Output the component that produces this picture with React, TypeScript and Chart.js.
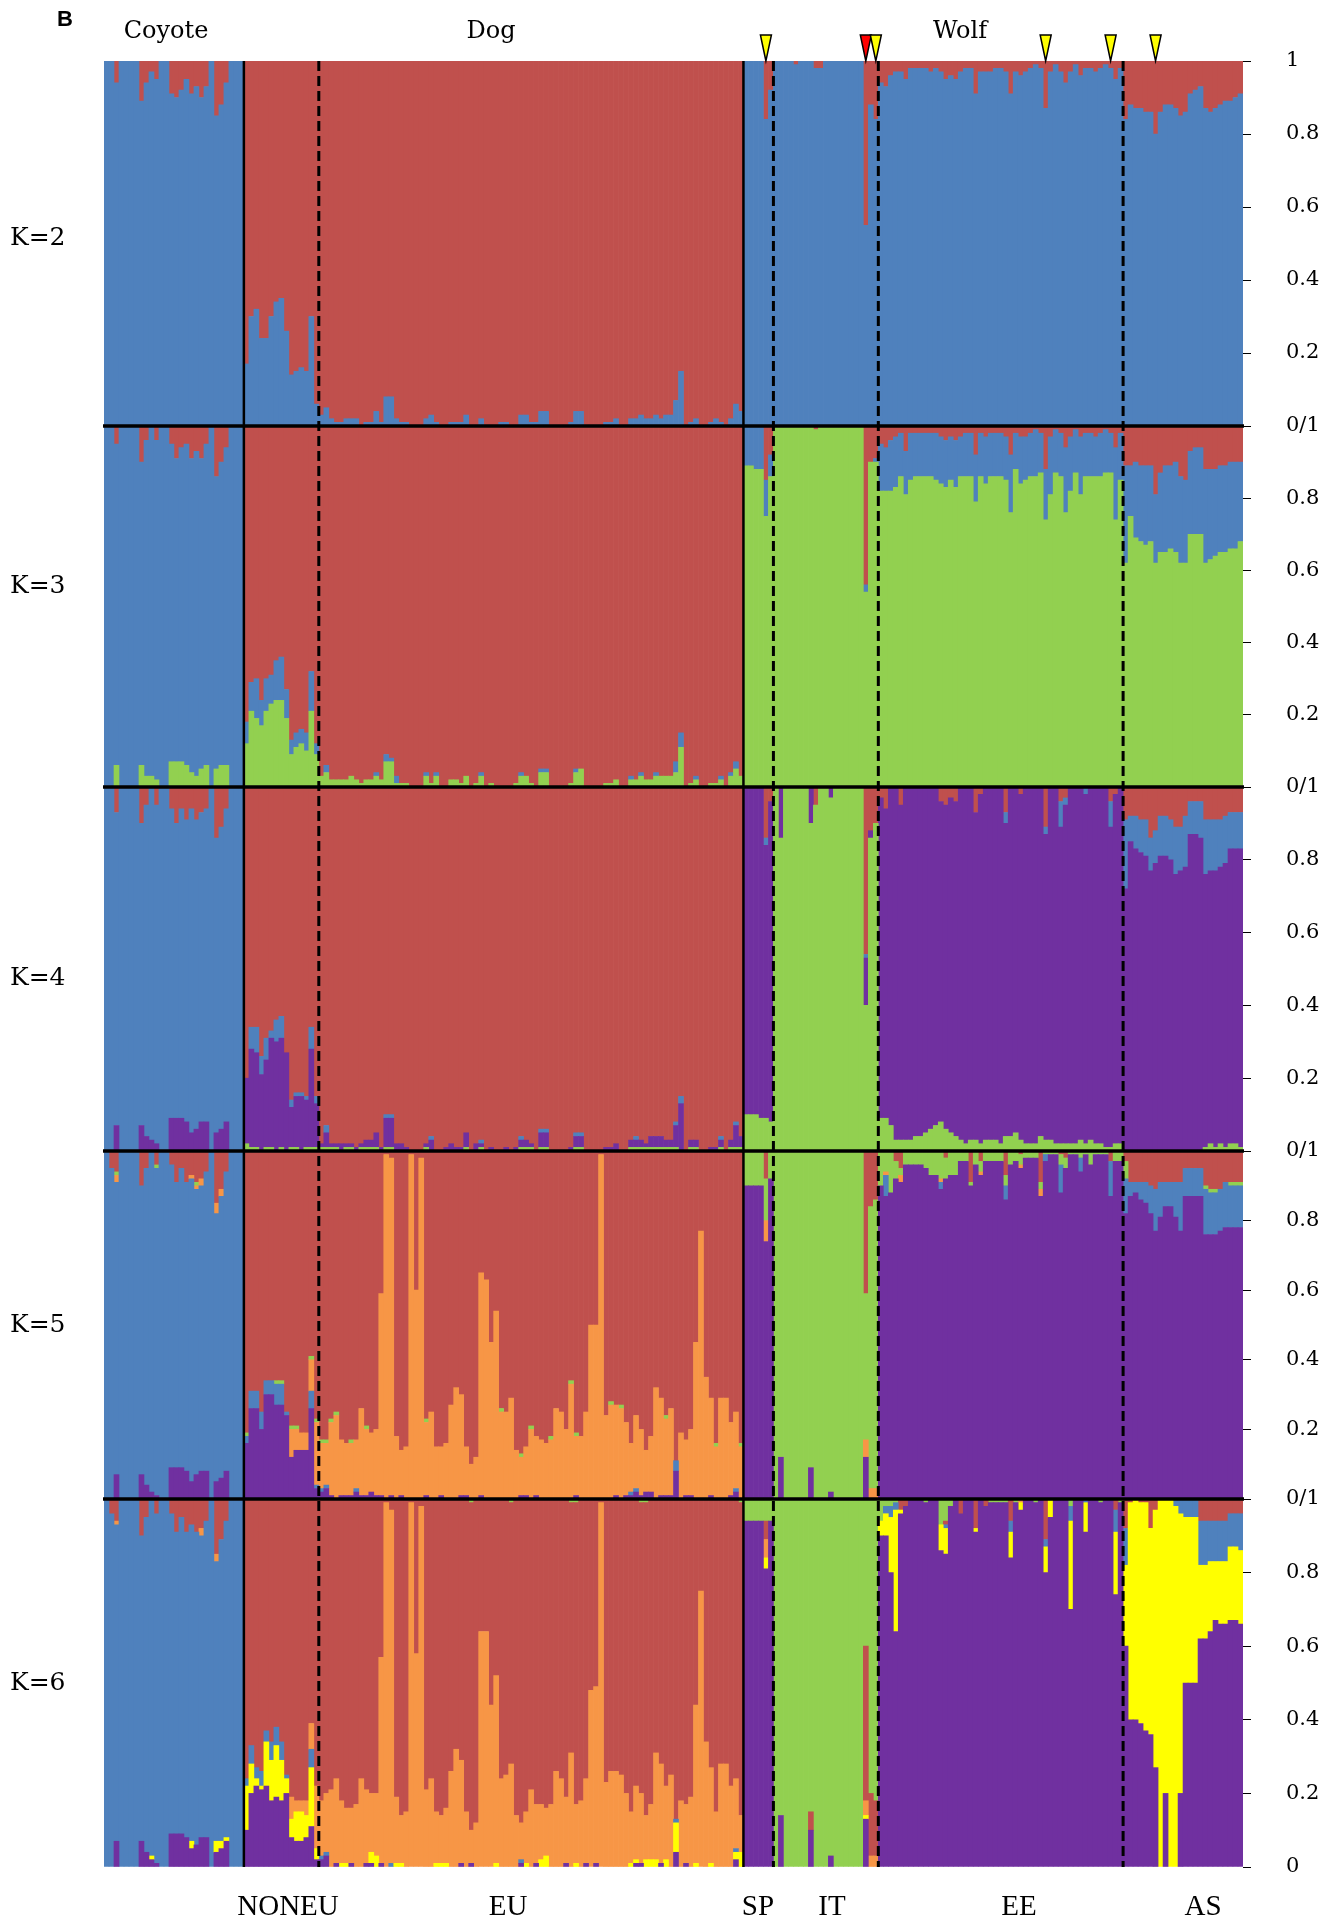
import React, { useEffect, useRef } from 'react';
import { Chart, registerables } from 'chart.js';

Chart.register(...registerables);

const W = 1339;
const H = 1924;

// ---- groups of individuals ----
const groupNames = ['Coyote', 'NONEU', 'EU', 'SP', 'IT', 'EE', 'AS'];
const groupSizes = [28, 15, 85, 6, 21, 49, 24];
const boundaryStyles = ['solid', 'dashed', 'solid', 'dashed', 'dashed', 'dashed'];

// ---- text ----
const taxonLabels = ['Coyote', 'Dog', 'Wolf'];
const taxonLabelX = [166, 491, 960];
const popLabels = ['NONEU', 'EU', 'SP', 'IT', 'EE', 'AS'];
const popLabelX = [288, 508, 758, 832, 1019, 1203];
const kLabels = ['K=2', 'K=3', 'K=4', 'K=5', 'K=6'];
const kLabelY = [236, 584, 976, 1323, 1681];
const panelHeights = [365, 361, 364, 348, 368];

// ---- highlighted individuals (triangles) ----
const markerGroups = ['SP', 'IT', 'IT', 'EE', 'EE', 'AS'];
const markerPositions = [4, 18, 20, 33, 46, 6];
const markerColors = ['#FFFF00', '#FF0000', '#FFFF00', '#FFFF00', '#FFFF00', '#FFFF00'];

const RED = '#C0504D';
const BLUE = '#4F81BD';
const GREEN = '#92D050';
const PURPLE = '#7030A0';
const ORANGE = '#F79646';
const YELLOW = '#FFFF00';

// ---- membership proportions (%), one sub-array per group; red = remainder ----
// K=2
const k2Blue = [
  [100,100,94,100,100,100,100,89,94,97,95,100,100,91,90,92,95,91,93,90,93,100,85,88,94,100,100,100],
  [17,30,32,24,24,30,34,35,26,14,15,16,15,30,6],
  [3,5,2,1,1,2,2,2,0,1,1,4,1,8,8,2,1,1,0,0,0,2,3,1,0,0,1,1,1,3,0,0,2,0,0,0,1,1,0,0,3,3,1,1,4,4,0,0,0,0,1,4,4,0,0,0,0,1,1,2,0,0,2,2,3,2,2,3,2,3,3,7,15,0,1,2,0,0,1,2,1,0,2,6,4],
  [100,100,100,100,84,92],
  [100,100,100,100,99,100,100,100,98,98,100,100,100,100,100,100,100,100,55,88,84],
  [94,93,96,97,97,95,98,98,98,98,97,98,97,95,96,95,97,98,98,91,97,97,97,98,98,97,91,97,96,97,98,99,98,87,97,99,97,94,97,99,96,98,98,97,98,99,98,95,98],
  [84,88,87,87,86,86,80,86,88,88,87,85,86,91,92,93,87,86,87,88,89,89,90,91],
];

// K=3
const k3Green = [
  [0,0,6,0,0,0,0,6,3,3,2,0,0,7,7,7,6,4,3,5,6,0,5,6,6,0,0,0],
  [12,21,19,17,21,23,24,24,19,9,11,12,10,21,9],
  [3,4,2,2,2,2,3,2,1,2,2,3,2,7,7,1,1,1,0,0,0,3,1,3,0,0,2,2,1,3,0,1,3,0,1,0,0,0,0,1,3,3,1,0,4,4,0,0,0,0,1,4,5,0,0,0,0,1,1,2,0,0,2,2,3,2,2,3,3,3,3,4,11,0,1,2,0,0,1,1,2,0,3,5,3],
  [89,89,88,88,75,86],
  [100,100,100,100,100,100,100,100,99,100,100,100,100,100,100,100,100,100,54,90,90],
  [82,82,82,83,86,81,85,86,86,86,86,85,84,83,85,83,86,86,86,79,86,84,86,86,86,85,76,88,84,85,86,86,87,74,81,87,86,76,82,87,81,86,86,86,86,87,87,74,85],
  [62,75,69,68,67,68,62,65,65,66,65,62,62,70,70,70,62,63,64,65,65,66,66,68],
];
const k3Blue = [
  [100,100,89,100,100,100,100,84,93,97,94,100,100,88,84,87,89,87,90,86,89,100,81,84,88,100,100,100],
  [6,8,11,7,9,8,11,12,8,4,4,4,5,11,3],
  [0,2,0,0,0,0,0,0,0,0,0,1,0,2,1,2,0,0,0,0,0,1,0,1,0,0,0,0,0,0,0,0,1,0,0,0,0,0,0,0,1,0,0,0,1,1,0,0,0,0,0,1,0,0,0,0,0,0,0,0,0,0,1,0,1,0,0,1,0,0,0,3,4,0,0,1,0,0,0,0,1,0,1,2,0],
  [11,11,12,12,10,6],
  [0,0,0,0,0,0,0,0,0,0,0,0,0,0,0,0,0,0,2,0,1],
  [13,12,14,14,12,12,13,12,12,12,12,13,13,13,12,13,11,12,12,13,12,13,12,12,12,12,16,10,13,12,12,13,11,14,16,12,12,18,15,12,16,12,12,11,12,12,11,20,13],
  [27,14,21,21,22,21,19,22,24,23,25,24,23,23,24,24,26,25,24,24,24,24,24,22],
];

// K=4
const k4Green = [
  [0,0,0,0,0,0,0,0,0,0,0,0,0,0,0,0,0,0,0,0,0,0,0,0,0,0,0,0],
  [2,1,1,0,1,1,0,1,0,1,1,0,1,1,1],
  [1,1,1,1,0,1,1,0,1,1,1,1,0,1,1,0,0,0,0,0,0,1,0,0,0,0,0,0,0,1,0,0,1,0,0,0,0,0,0,0,1,1,1,0,1,1,0,0,0,0,0,1,1,0,0,0,0,0,0,0,0,0,1,1,1,1,1,1,1,1,1,1,0,0,1,1,0,0,0,0,1,0,1,1,1],
  [10,10,10,9,9,8],
  [100,86,100,100,100,100,100,90,95,100,100,97,100,100,100,100,100,100,40,86,90],
  [9,9,7,3,3,3,3,4,4,5,6,7,8,6,5,4,3,2,3,3,2,3,3,3,2,4,4,5,3,2,2,2,4,3,3,2,2,2,2,2,3,2,3,2,2,1,1,2,2],
  [0,0,0,0,0,0,0,0,0,0,0,0,0,0,0,0,1,2,1,2,1,2,2,1],
];
const k4Purple = [
  [0,0,7,0,0,0,0,7,4,3,2,0,0,9,9,9,8,5,6,8,8,0,5,6,8,0,0,0],
  [18,27,26,21,24,30,30,30,27,11,14,15,13,27,12],
  [1,4,1,1,2,1,1,1,1,2,2,4,1,8,8,2,2,1,0,0,0,1,3,0,0,1,2,1,1,4,0,2,1,0,1,0,0,1,0,1,2,2,1,0,4,4,0,0,0,0,1,3,3,0,0,0,0,1,1,2,0,0,2,2,2,1,3,3,3,2,2,6,13,0,2,2,0,0,1,1,2,0,2,6,3],
  [90,90,90,91,75,88],
  [0,14,0,0,0,0,0,10,0,0,0,3,0,0,0,0,0,0,13,2,0],
  [88,85,93,97,92,97,97,96,96,95,94,93,88,89,92,92,97,98,97,90,96,97,97,97,98,86,96,95,95,98,98,98,96,84,97,98,87,93,98,98,97,96,97,98,98,99,88,96,98],
  [72,85,83,82,81,77,79,81,81,80,76,77,78,87,87,86,75,75,76,76,78,81,81,82],
];
const k4Blue = [
  [100,100,86,100,100,100,100,83,91,97,93,100,100,85,81,85,83,89,85,85,86,100,81,83,86,100,100,100],
  [0,6,7,5,6,2,6,6,0,2,1,1,1,6,2],
  [0,2,0,0,0,0,0,0,0,0,0,0,0,1,1,0,0,0,0,0,0,0,1,0,0,0,0,0,0,0,0,0,1,0,0,0,0,0,0,0,1,0,0,0,1,1,0,0,0,0,0,1,1,0,0,0,0,0,0,0,0,0,0,1,0,0,0,0,0,0,0,1,2,0,0,0,0,0,0,0,1,0,0,1,0],
  [0,0,0,0,2,0],
  [0,0,0,0,0,0,0,0,0,0,0,0,0,0,0,0,0,0,1,0,0],
  [0,0,0,0,0,0,0,0,0,0,0,0,0,0,0,0,0,0,0,0,0,0,0,0,0,3,0,0,0,0,0,0,0,2,0,0,7,2,0,0,0,2,0,0,0,0,7,0,0],
  [19,7,9,9,10,9,9,11,11,11,13,12,14,9,9,10,15,14,14,13,13,10,10,10],
];

// K=5
const k5Purple = [
  [0,0,7,0,0,0,0,7,4,2,1,0,0,9,9,9,8,5,7,8,8,0,5,6,8,0,0,0],
  [16,26,26,20,30,30,27,27,24,12,14,14,14,26,3],
  [2,3,1,0,1,1,1,2,1,1,2,1,1,0,1,0,1,0,0,0,0,1,0,0,1,0,0,0,1,1,0,0,1,0,0,0,0,0,0,0,1,1,0,1,0,0,0,0,0,0,0,1,0,0,0,0,0,0,0,1,0,1,1,2,1,2,2,0,1,1,1,8,0,1,1,0,0,0,1,0,0,0,1,2,0],
  [90,90,90,90,74,92],
  [0,12,0,0,0,0,0,9,0,0,0,2,0,0,0,0,0,0,12,0,0],
  [90,87,88,92,91,96,96,96,96,95,93,93,89,92,93,93,97,97,90,96,93,97,97,97,97,86,96,97,95,98,98,98,87,97,99,99,88,95,99,99,94,99,96,99,99,99,87,97,97],
  [82,87,88,86,85,82,77,81,84,84,81,77,87,87,87,87,76,76,76,77,78,78,78,78],
];
const k5Blue = [
  [100,95,84,100,100,100,100,83,91,98,94,100,100,87,82,86,83,87,82,82,86,100,77,81,86,100,100,100],
  [2,5,5,5,4,4,6,6,1,0,0,0,0,5,1],
  [1,1,0,0,0,0,0,1,0,0,0,0,0,0,0,0,0,0,0,0,0,0,0,0,0,0,0,0,0,0,0,0,0,0,0,0,0,0,0,0,0,0,0,0,0,0,0,0,0,0,0,0,0,0,0,0,0,0,0,0,0,0,1,1,0,0,0,0,0,0,0,3,0,0,0,0,0,0,0,0,0,0,0,1,0],
  [0,0,0,0,0,0],
  [0,0,0,0,0,0,0,0,0,0,0,0,0,0,0,0,0,0,0,0,0],
  [0,6,0,0,0,0,0,0,0,0,0,0,2,0,0,0,0,0,0,0,0,0,0,0,0,4,0,0,0,0,0,0,0,2,0,0,8,0,0,0,4,0,0,0,0,0,10,0,0],
  [10,4,3,5,6,8,12,10,7,7,10,14,8,8,8,8,13,12,12,12,13,12,12,12],
];
const k5Orange = [
  [0,0,2,0,0,0,0,0,0,0,0,0,0,0,0,0,0,1,1,2,0,0,3,2,0,0,0,0],
  [0,0,0,0,0,0,0,0,0,8,6,5,5,9,18],
  [13,12,21,24,16,15,15,14,25,19,17,19,58,99,97,18,13,15,99,60,98,21,25,15,14,16,27,32,29,14,10,12,64,63,45,54,25,25,29,14,11,14,20,17,17,16,17,26,25,20,33,17,18,25,50,50,99,24,27,26,26,21,14,21,19,12,16,32,28,22,25,0,19,16,19,45,77,35,28,15,29,29,21,22,15],
  [0,0,0,0,6,0],
  [0,0,0,0,0,0,0,0,0,0,0,0,0,0,0,0,0,0,5,3,3],
  [0,1,0,0,2,0,0,0,0,0,0,0,1,0,0,0,0,0,0,0,1,0,0,0,0,0,0,0,1,0,0,0,2,0,0,0,0,0,0,0,0,0,0,0,0,0,0,0,0],
  [0,0,0,0,0,0,0,0,0,0,0,0,0,0,0,0,0,0,0,0,0,0,0,0],
];
const k5Green = [
  [0,0,1,0,0,0,0,0,0,0,1,0,0,0,0,0,0,0,1,0,0,0,0,0,0,0,0,0],
  [1,0,0,0,0,0,1,1,0,1,1,0,0,1,1],
  [1,1,1,1,0,0,1,0,0,1,0,0,0,0,0,0,0,0,0,0,0,1,0,0,0,0,0,0,0,0,0,0,0,0,0,0,1,0,0,0,1,0,1,0,0,0,1,0,0,0,1,1,0,0,0,0,0,0,1,0,1,0,0,0,0,0,0,0,0,1,0,0,0,0,0,0,0,0,0,1,0,0,0,0,1],
  [10,10,10,10,12,8],
  [100,88,100,100,100,100,100,91,100,100,100,98,100,100,100,100,100,100,42,81,83],
  [10,6,12,5,2,4,4,4,4,5,7,7,8,6,7,7,3,3,1,4,3,3,3,3,3,3,4,3,3,2,2,2,2,1,1,1,3,3,1,1,2,1,4,1,1,1,0,3,3],
  [5,0,0,0,0,0,0,0,0,0,0,0,0,0,0,0,1,1,1,0,0,1,1,1],
];

// K=6
const k6Purple = [
  [0,0,7,0,0,0,0,7,4,2,1,0,0,9,9,9,8,5,6,8,8,0,4,5,7,0,0,0],
  [10,20,22,21,22,18,19,18,20,8,7,7,8,11,2],
  [2,3,0,1,0,0,1,0,0,1,1,0,1,0,0,0,0,0,0,0,0,0,0,0,0,0,0,0,1,0,1,0,0,0,0,0,0,0,0,0,1,0,0,1,0,0,0,0,0,1,0,0,0,1,0,1,0,0,0,0,0,0,0,1,1,0,0,0,1,0,0,4,0,1,0,0,0,0,0,0,0,0,0,2,0],
  [94,94,94,94,81,94],
  [0,14,0,0,0,0,0,10,0,0,0,3,0,0,0,0,0,0,13,0,0],
  [90,90,80,64,96,98,100,100,100,99,100,100,86,85,98,100,96,100,100,91,100,98,99,99,99,99,84,99,97,100,100,99,100,80,95,100,100,100,70,100,100,91,100,100,99,100,100,74,99],
  [60,40,40,39,37,36,27,0,20,0,0,20,50,50,50,62,62,64,67,66,66,67,67,66],
];
const k6Yellow = [
  [0,0,0,0,0,0,0,0,0,1,0,0,0,0,0,0,0,2,0,0,0,0,3,2,1,0,0,0],
  [12,8,2,1,12,11,14,11,4,5,8,8,6,16,3],
  [0,0,0,0,1,1,0,0,0,0,3,3,0,0,0,1,1,0,0,0,0,0,0,1,1,1,0,0,0,0,0,0,0,0,0,1,0,0,0,0,0,1,0,0,2,3,0,0,0,0,0,1,0,0,0,0,0,0,0,0,0,0,1,1,0,2,2,2,0,2,0,8,0,0,0,1,0,0,1,0,0,0,0,2,4],
  [0,0,0,0,3,0],
  [0,0,0,0,0,0,0,0,0,0,0,0,0,0,0,0,0,0,1,0,0],
  [4,6,15,33,1,0,0,0,0,0,0,0,7,7,0,0,0,0,0,1,0,0,0,0,0,0,7,0,2,0,0,0,0,7,5,0,0,0,24,0,0,8,0,0,0,0,0,17,0],
  [22,59,60,60,62,56,70,100,80,100,98,76,45,45,45,20,20,19,16,17,17,20,20,20],
];
const k6Blue = [
  [100,96,86,100,100,100,100,83,91,97,95,100,100,87,82,86,83,86,85,82,86,100,76,82,86,100,100,100],
  [2,5,3,4,3,5,5,5,1,0,0,0,0,5,0],
  [1,1,0,0,0,0,0,0,0,0,0,0,0,0,1,0,0,0,0,0,0,0,0,0,0,0,0,0,0,0,0,0,0,0,0,0,0,0,0,0,1,0,0,0,0,0,0,0,0,0,0,0,0,0,0,0,0,0,0,0,0,0,0,0,0,0,0,0,0,0,0,1,0,0,0,0,0,0,0,0,0,0,0,1,0],
  [0,0,0,0,0,0],
  [0,0,0,0,0,0,0,0,0,0,0,0,0,0,0,0,0,0,0,0,0],
  [0,2,3,2,0,0,0,0,0,0,0,0,0,1,0,0,0,0,0,0,0,0,0,0,0,0,3,0,0,0,0,0,0,2,0,0,0,0,4,0,0,1,0,0,0,0,0,6,0],
  [10,0,0,0,0,0,0,0,0,0,2,4,5,5,5,12,12,11,11,11,11,9,9,10],
];
const k6Orange = [
  [0,0,1,0,0,0,0,0,0,0,0,0,0,0,0,0,0,0,0,2,0,0,2,0,0,0,0,0],
  [0,0,0,0,0,0,0,0,0,6,3,3,4,7,17],
  [15,16,21,23,17,15,15,17,24,20,16,17,56,99,96,18,13,15,99,58,98,21,24,14,13,15,26,32,28,15,9,12,64,64,44,51,24,25,28,14,10,14,21,16,15,13,17,26,24,18,31,16,18,23,48,48,99,23,26,26,25,20,14,20,19,12,15,29,27,20,25,0,18,16,19,43,75,34,26,15,28,28,22,19,10],
  [0,0,0,0,5,0],
  [0,0,0,0,0,0,0,0,0,0,0,0,0,0,0,0,0,0,4,3,3],
  [0,0,0,0,0,0,0,0,0,0,0,0,0,0,0,0,0,0,0,0,0,0,0,0,0,0,0,0,1,0,0,0,0,0,0,0,0,0,0,0,0,0,0,0,0,0,0,0,0],
  [0,0,0,0,0,0,0,0,0,0,0,0,0,0,0,0,0,0,0,0,0,0,0,0],
];
const k6Green = [
  [0,0,0,0,0,0,0,0,0,0,0,0,0,0,0,0,0,0,0,0,0,0,0,0,0,0,0,0],
  [0,0,0,0,0,0,0,0,0,0,0,0,0,0,0],
  [0,0,0,0,0,0,0,0,0,0,0,0,0,0,0,0,0,0,0,0,0,0,0,0,0,0,0,0,0,0,1,0,0,0,0,0,0,0,1,0,0,0,0,0,0,0,0,0,0,0,1,1,0,0,0,0,0,0,0,0,0,0,0,0,1,1,0,0,0,0,0,0,0,0,0,0,0,0,0,0,0,0,0,0,1],
  [6,6,6,6,6,6],
  [100,86,100,100,100,100,100,85,100,100,100,97,100,100,100,100,100,100,40,80,82],
  [6,2,2,1,0,0,0,0,0,1,0,0,7,6,2,0,0,0,0,0,0,0,1,1,1,1,0,1,0,0,0,1,0,0,0,0,0,0,2,0,0,0,0,0,1,0,0,0,1],
  [0,0,0,0,0,0,0,0,0,0,0,0,0,0,0,0,0,0,0,0,0,0,0,0],
];

// stacking order bottom -> top; null = remainder (red)
const panelDefs: { id: string; layers: [string, number[][] | null][] }[] = [
  { id: 'yK2', layers: [[BLUE, k2Blue], [RED, null]] },
  { id: 'yK3', layers: [[GREEN, k3Green], [BLUE, k3Blue], [RED, null]] },
  { id: 'yK4', layers: [[GREEN, k4Green], [PURPLE, k4Purple], [BLUE, k4Blue], [RED, null]] },
  { id: 'yK5', layers: [[PURPLE, k5Purple], [BLUE, k5Blue], [ORANGE, k5Orange], [GREEN, k5Green], [RED, null]] },
  { id: 'yK6', layers: [[PURPLE, k6Purple], [YELLOW, k6Yellow], [BLUE, k6Blue], [ORANGE, k6Orange], [RED, null], [GREEN, k6Green]] },
];

function flat(series: number[][]): number[] {
  const out: number[] = [];
  groupSizes.forEach((n, g) => {
    for (let j = 0; j < n; j++) out.push((series[g] && series[g][j]) || 0);
  });
  return out;
}

const labels: string[] = [];
groupNames.forEach((g, gi) => {
  for (let j = 0; j < groupSizes[gi]; j++) labels.push(g + ' ' + (j + 1));
});

function groupStart(name: string): number {
  let s = 0;
  for (let g = 0; g < groupNames.length; g++) {
    if (groupNames[g] === name) return s;
    s += groupSizes[g];
  }
  return 0;
}

function tickText(v: number, p: number): string {
  const r = Math.round(v * 10) / 10;
  if (r === 1) return p === 0 ? '1' : '';
  if (r === 0) return p === panelDefs.length - 1 ? '0' : '0/1';
  return r.toFixed(1);
}

const overlayPlugin = {
  id: 'overlay',
  afterDatasetsDraw(chart: any) {
    const { ctx, chartArea: a, scales } = chart;
    const xs = scales.x;
    ctx.save();
    ctx.strokeStyle = '#000';
    // vertical group boundaries
    let idx = 0;
    groupSizes.slice(0, -1).forEach((n, g) => {
      idx += n;
      const x = (xs.getPixelForValue(idx - 1) + xs.getPixelForValue(idx)) / 2;
      const dashed = boundaryStyles[g] === 'dashed';
      ctx.setLineDash(dashed ? [10, 5] : []);
      ctx.lineWidth = dashed ? 3 : 2.5;
      ctx.beginPath();
      ctx.moveTo(x, a.top);
      ctx.lineTo(x, a.bottom);
      ctx.stroke();
    });
    ctx.setLineDash([]);
    // horizontal panel separators
    ctx.lineWidth = 3.5;
    panelDefs.slice(0, -1).forEach((p) => {
      const y = scales[p.id].bottom;
      ctx.beginPath();
      ctx.moveTo(a.left - 1, y);
      ctx.lineTo(a.right + 1, y);
      ctx.stroke();
    });
    // triangles
    ctx.lineWidth = 1.5;
    ctx.lineJoin = 'miter';
    markerGroups.forEach((g, m) => {
      const i = groupStart(g) + markerPositions[m];
      const x = xs.getPixelForValue(i);
      ctx.beginPath();
      ctx.moveTo(x, a.top);
      ctx.lineTo(x - 5.5, a.top - 26);
      ctx.lineTo(x + 5.5, a.top - 26);
      ctx.closePath();
      ctx.fillStyle = markerColors[m];
      ctx.fill();
      ctx.stroke();
    });
    ctx.restore();
  },
};

export default function App() {
  const ref = useRef<HTMLCanvasElement>(null);

  useEffect(() => {
    if (!ref.current) return;
    const datasets: any[] = [];
    panelDefs.forEach((p) => {
      const known = p.layers.filter((l) => l[1]).map((l) => flat(l[1] as number[][]));
      const remainder = labels.map((_, i) => Math.max(0, 100 - known.reduce((s, arr) => s + arr[i], 0)));
      p.layers.forEach(([color, series]) => {
        const vals = series ? flat(series) : remainder;
        datasets.push({
          type: 'bar',
          data: vals.map((v) => (v > 0 ? v / 100 : null)),
          backgroundColor: color,
          borderWidth: 0,
          xAxisID: 'x',
          yAxisID: p.id,
          grouped: false,
          categoryPercentage: 1,
          barPercentage: 1,
        });
      });
    });

    const scales: any = {
      x: { type: 'category', display: false, offset: true, grid: { display: false } },
    };
    panelDefs.forEach((p, pi) => {
      scales[p.id] = {
        type: 'linear',
        position: 'right',
        stack: 'panels',
        stackWeight: panelHeights[pi],
        stacked: true,
        min: 0,
        max: 1,
        grid: { display: true, drawOnChartArea: false, drawTicks: true, tickLength: 8, color: '#000', tickColor: '#000', lineWidth: 1 },
        border: { display: false },
        ticks: {
          stepSize: 0.2,
          padding: 35,
          color: '#000',
          autoSkip: false,
          font: { family: 'DejaVu Serif', size: 21 },
          callback: (v: any) => tickText(Number(v), pi),
        },
        afterFit: (s: any) => {
          s.width = 96;
        },
      };
    });

    const chart = new Chart(ref.current, {
      type: 'bar',
      data: { labels, datasets },
      options: {
        responsive: false,
        maintainAspectRatio: false,
        animation: false,
        devicePixelRatio: 1,
        events: [],
        layout: { padding: { left: 104, top: 61, right: 0, bottom: 57 } },
        plugins: { legend: { display: false }, tooltip: { enabled: false }, title: { display: false } },
        scales,
      } as any,
      plugins: [overlayPlugin],
    });
    return () => chart.destroy();
  }, []);

  const serif = '"DejaVu Serif", serif';
  return (
    <div style={{ position: 'absolute', left: 0, top: 0, width: W, height: H, background: '#fff', overflow: 'hidden' }}>
      <canvas ref={ref} width={W} height={H} style={{ position: 'absolute', left: 0, top: 0, width: W, height: H, display: 'block' }} />
      <div style={{ position: 'absolute', left: 57, top: 8, font: 'bold 22px "Liberation Sans", sans-serif', lineHeight: '22px', color: '#000' }}>B</div>
      {taxonLabels.map((t, i) => (
        <div key={t} style={{ position: 'absolute', left: taxonLabelX[i], top: 18, transform: 'translateX(-50%)', font: '24px ' + serif, lineHeight: '24px', whiteSpace: 'nowrap', color: '#000' }}>{t}</div>
      ))}
      {kLabels.map((t, i) => (
        <div key={t} style={{ position: 'absolute', left: 10, top: kLabelY[i] - 12, font: '25px ' + serif, lineHeight: '25px', whiteSpace: 'nowrap', color: '#000' }}>{t}</div>
      ))}
      {popLabels.map((t, i) => (
        <div key={t} style={{ position: 'absolute', left: popLabelX[i], top: 1891, transform: 'translateX(-50%)', font: '29px "Liberation Serif", serif', lineHeight: '29px', whiteSpace: 'nowrap', color: '#000' }}>{t}</div>
      ))}
    </div>
  );
}
